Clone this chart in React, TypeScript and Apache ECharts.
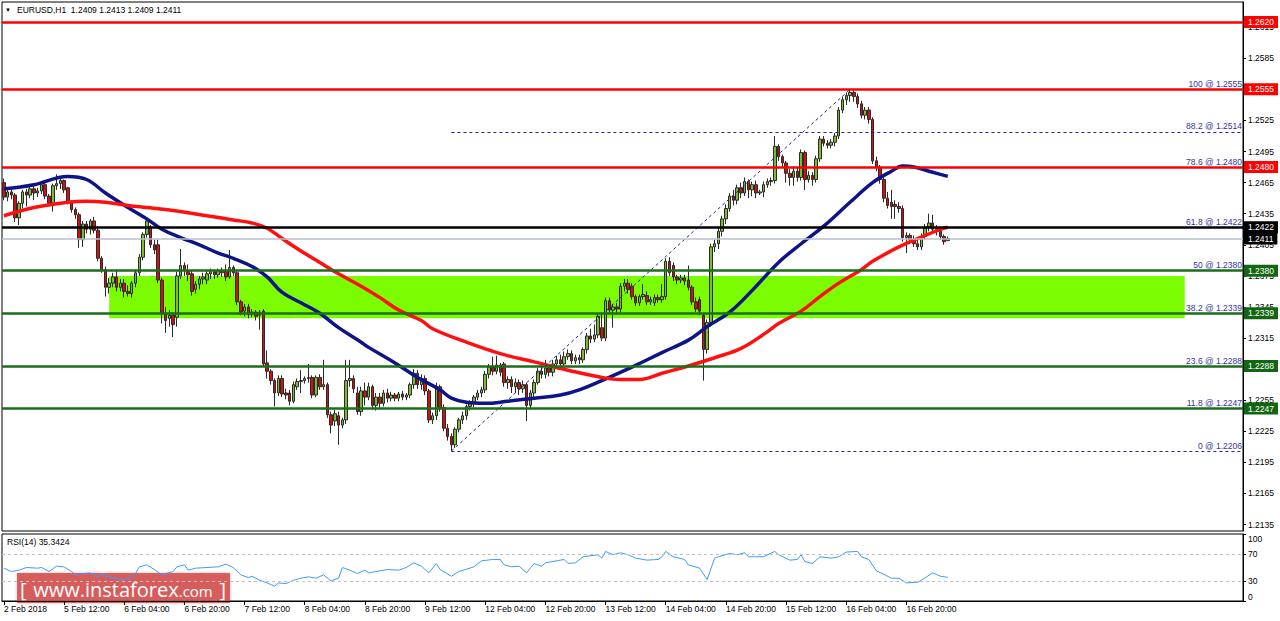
import React, { useEffect, useRef } from 'react';
import * as echarts from 'echarts';

// ---------- data ----------
const tickLabels = ['2 Feb 2018', '5 Feb 12:00', '6 Feb 04:00', '6 Feb 20:00', '7 Feb 12:00', '8 Feb 04:00', '8 Feb 20:00', '9 Feb 12:00', '12 Feb 04:00', '12 Feb 20:00', '13 Feb 12:00', '14 Feb 04:00', '14 Feb 20:00', '15 Feb 12:00', '16 Feb 04:00', '16 Feb 20:00'];
const priceTicks = [1.2135, 1.2165, 1.2195, 1.2225, 1.2255, 1.2285, 1.2315, 1.2345, 1.2375, 1.2405, 1.2435, 1.2465, 1.2495, 1.2525, 1.2555, 1.2585, 1.2615];
const rsiTicks = [0, 30, 70, 100];
const rsiLevels = [70, 30];

// [open, close, low, high] hourly candles
const candles: number[][] = [
  [1.2465,1.2451,1.2448,1.2469],[1.2451,1.2456,1.2447,1.2460],[1.2456,1.2453,1.2449,1.2461],[1.2453,1.2431,1.2427,1.2455],
  [1.2431,1.2445,1.2424,1.2447],[1.2445,1.2456,1.2440,1.2458],[1.2456,1.2453,1.2442,1.2459],[1.2453,1.2459,1.2450,1.2462],
  [1.2459,1.2455,1.2448,1.2462],[1.2455,1.2457,1.2451,1.2460],[1.2457,1.2463,1.2454,1.2465],[1.2463,1.2452,1.2449,1.2465],
  [1.2452,1.2445,1.2442,1.2454],[1.2445,1.2462,1.2437,1.2464],[1.2462,1.2464,1.2458,1.2473],[1.2464,1.2467,1.2459,1.2469],
  [1.2467,1.2458,1.2455,1.2468],[1.2460,1.2446,1.2444,1.2461],[1.2446,1.2439,1.2436,1.2448],[1.2439,1.2434,1.2430,1.2441],
  [1.2434,1.2410,1.2402,1.2436],[1.2410,1.2425,1.2403,1.2428],[1.2425,1.2420,1.2416,1.2428],[1.2420,1.2428,1.2415,1.2430],
  [1.2428,1.2419,1.2416,1.2432],[1.2419,1.2392,1.2389,1.2423],[1.2392,1.2381,1.2378,1.2394],[1.2381,1.2364,1.2355,1.2384],
  [1.2364,1.2368,1.2358,1.2373],[1.2368,1.2374,1.2364,1.2378],[1.2374,1.2364,1.2360,1.2381],[1.2364,1.2368,1.2360,1.2372],
  [1.2368,1.2360,1.2354,1.2372],[1.2360,1.2358,1.2355,1.2366],[1.2358,1.2368,1.2354,1.2370],[1.2368,1.2378,1.2364,1.2381],
  [1.2378,1.2393,1.2375,1.2396],[1.2393,1.2415,1.2390,1.2417],[1.2415,1.2428,1.2412,1.2431],[1.2421,1.2405,1.2402,1.2424],
  [1.2405,1.2400,1.2396,1.2410],[1.2405,1.2371,1.2368,1.2410],[1.2371,1.2339,1.2329,1.2373],[1.2339,1.2332,1.2320,1.2345],
  [1.2334,1.2337,1.2326,1.2342],[1.2337,1.2328,1.2316,1.2340],[1.2335,1.2375,1.2326,1.2379],[1.2375,1.2385,1.2372,1.2401],
  [1.2385,1.2380,1.2375,1.2388],[1.2380,1.2376,1.2370,1.2386],[1.2377,1.2360,1.2356,1.2380],[1.2362,1.2367,1.2358,1.2370],
  [1.2367,1.2372,1.2362,1.2375],[1.2372,1.2374,1.2367,1.2378],[1.2371,1.2377,1.2367,1.2380],[1.2377,1.2379,1.2372,1.2382],
  [1.2379,1.2376,1.2372,1.2381],[1.2376,1.2380,1.2373,1.2382],[1.2380,1.2378,1.2374,1.2383],[1.2380,1.2374,1.2370,1.2386],
  [1.2374,1.2383,1.2372,1.2400],[1.2383,1.2378,1.2375,1.2385],[1.2378,1.2350,1.2347,1.2380],[1.2350,1.2340,1.2337,1.2352],
  [1.2341,1.2345,1.2336,1.2348],[1.2345,1.2338,1.2334,1.2348],[1.2338,1.2340,1.2335,1.2343],[1.2340,1.2336,1.2332,1.2342],
  [1.2337,1.2340,1.2323,1.2342],[1.2341,1.2290,1.2288,1.2343],[1.2291,1.2283,1.2276,1.2303],[1.2283,1.2274,1.2270,1.2285],
  [1.2274,1.2262,1.2249,1.2276],[1.2262,1.2276,1.2259,1.2279],[1.2276,1.2261,1.2258,1.2279],[1.2262,1.2260,1.2256,1.2266],
  [1.2262,1.2254,1.2250,1.2265],[1.2254,1.2270,1.2252,1.2273],[1.2268,1.2273,1.2265,1.2276],[1.2273,1.2274,1.2262,1.2284],
  [1.2274,1.2276,1.2271,1.2278],[1.2276,1.2277,1.2272,1.2290],[1.2277,1.2260,1.2257,1.2279],[1.2260,1.2277,1.2258,1.2279],
  [1.2277,1.2268,1.2265,1.2280],[1.2268,1.2270,1.2265,1.2294],[1.2270,1.2241,1.2238,1.2272],[1.2241,1.2231,1.2223,1.2244],
  [1.2235,1.2242,1.2230,1.2246],[1.2240,1.2231,1.2212,1.2244],[1.2231,1.2236,1.2228,1.2238],[1.2236,1.2274,1.2232,1.2294],
  [1.2274,1.2276,1.2268,1.2294],[1.2276,1.2266,1.2262,1.2279],[1.2262,1.2244,1.2241,1.2268],[1.2244,1.2264,1.2240,1.2268],
  [1.2264,1.2258,1.2250,1.2272],[1.2258,1.2268,1.2255,1.2272],[1.2268,1.2250,1.2246,1.2270],[1.2250,1.2258,1.2245,1.2262],
  [1.2258,1.2252,1.2248,1.2262],[1.2252,1.2262,1.2249,1.2265],[1.2262,1.2257,1.2253,1.2266],[1.2257,1.2260,1.2254,1.2263],
  [1.2260,1.2257,1.2254,1.2262],[1.2257,1.2261,1.2254,1.2263],[1.2261,1.2258,1.2255,1.2264],[1.2258,1.2260,1.2255,1.2262],
  [1.2260,1.2270,1.2257,1.2272],[1.2270,1.2281,1.2266,1.2285],[1.2281,1.2270,1.2266,1.2284],[1.2270,1.2276,1.2265,1.2280],
  [1.2276,1.2264,1.2260,1.2279],[1.2264,1.2236,1.2233,1.2266],[1.2236,1.2240,1.2232,1.2243],[1.2240,1.2268,1.2236,1.2272],
  [1.2268,1.2248,1.2244,1.2270],[1.2248,1.2228,1.2225,1.2251],[1.2228,1.2220,1.2216,1.2232],[1.2220,1.2212,1.2206,1.2223],
  [1.2212,1.2227,1.2209,1.2229],[1.2227,1.2236,1.2224,1.2238],[1.2236,1.2240,1.2232,1.2244],[1.2240,1.2249,1.2236,1.2251],
  [1.2249,1.2252,1.2245,1.2255],[1.2252,1.2258,1.2248,1.2260],[1.2258,1.2262,1.2255,1.2265],[1.2262,1.2265,1.2258,1.2268],
  [1.2265,1.2280,1.2262,1.2283],[1.2280,1.2287,1.2276,1.2290],[1.2287,1.2283,1.2279,1.2297],[1.2283,1.2289,1.2280,1.2298],
  [1.2289,1.2282,1.2278,1.2291],[1.2290,1.2272,1.2268,1.2292],[1.2272,1.2275,1.2266,1.2278],[1.2275,1.2268,1.2262,1.2278],
  [1.2268,1.2272,1.2262,1.2276],[1.2272,1.2266,1.2260,1.2275],[1.2266,1.2270,1.2262,1.2274],[1.2270,1.2250,1.2235,1.2272],
  [1.2250,1.2262,1.2246,1.2265],[1.2262,1.2272,1.2258,1.2275],[1.2272,1.2283,1.2270,1.2286],[1.2283,1.2280,1.2276,1.2290],
  [1.2280,1.2286,1.2276,1.2294],[1.2286,1.2282,1.2278,1.2290],[1.2282,1.2290,1.2278,1.2294],[1.2290,1.2294,1.2287,1.2298],
  [1.2294,1.2290,1.2285,1.2299],[1.2290,1.2297,1.2287,1.2302],[1.2297,1.2300,1.2294,1.2304],[1.2300,1.2293,1.2290,1.2303],
  [1.2293,1.2296,1.2290,1.2299],[1.2296,1.2294,1.2290,1.2299],[1.2294,1.2304,1.2291,1.2306],[1.2304,1.2317,1.2300,1.2320],
  [1.2317,1.2314,1.2310,1.2324],[1.2314,1.2318,1.2311,1.2328],[1.2318,1.2336,1.2315,1.2339],[1.2325,1.2315,1.2312,1.2338],
  [1.2315,1.2351,1.2312,1.2354],[1.2351,1.2342,1.2339,1.2354],[1.2342,1.2345,1.2325,1.2348],[1.2345,1.2343,1.2338,1.2349],
  [1.2343,1.2365,1.2340,1.2368],[1.2365,1.2368,1.2360,1.2372],[1.2368,1.2362,1.2358,1.2372],[1.2365,1.2355,1.2352,1.2368],
  [1.2355,1.2349,1.2346,1.2357],[1.2349,1.2355,1.2346,1.2357],[1.2355,1.2357,1.2352,1.2367],[1.2356,1.2350,1.2347,1.2360],
  [1.2350,1.2352,1.2347,1.2355],[1.2349,1.2354,1.2346,1.2357],[1.2354,1.2352,1.2349,1.2357],[1.2352,1.2355,1.2349,1.2367],
  [1.2355,1.2389,1.2352,1.2392],[1.2389,1.2378,1.2375,1.2393],[1.2385,1.2374,1.2370,1.2388],[1.2374,1.2371,1.2367,1.2376],
  [1.2371,1.2373,1.2368,1.2376],[1.2373,1.2370,1.2366,1.2376],[1.2371,1.2364,1.2361,1.2385],[1.2364,1.2350,1.2347,1.2366],
  [1.2350,1.2343,1.2340,1.2354],[1.2352,1.2341,1.2337,1.2355],[1.2337,1.2304,1.2274,1.2339],[1.2304,1.2330,1.2300,1.2333],
  [1.2330,1.2403,1.2326,1.2406],[1.2403,1.2406,1.2398,1.2410],[1.2406,1.2418,1.2401,1.2421],[1.2418,1.2430,1.2413,1.2433],
  [1.2430,1.2440,1.2425,1.2444],[1.2440,1.2452,1.2437,1.2455],[1.2452,1.2448,1.2443,1.2458],[1.2448,1.2460,1.2444,1.2463],
  [1.2460,1.2455,1.2450,1.2465],[1.2455,1.2466,1.2452,1.2470],[1.2466,1.2458,1.2450,1.2468],[1.2458,1.2463,1.2452,1.2466],
  [1.2463,1.2455,1.2450,1.2467],[1.2455,1.2456,1.2453,1.2458],[1.2456,1.2463,1.2451,1.2466],[1.2463,1.2466,1.2460,1.2469],
  [1.2466,1.2467,1.2462,1.2470],[1.2467,1.2500,1.2464,1.2510],[1.2500,1.2490,1.2486,1.2502],[1.2490,1.2484,1.2480,1.2492],
  [1.2484,1.2474,1.2465,1.2486],[1.2474,1.2470,1.2462,1.2478],[1.2470,1.2476,1.2462,1.2479],[1.2476,1.2470,1.2466,1.2480],
  [1.2470,1.2494,1.2467,1.2497],[1.2494,1.2468,1.2458,1.2496],[1.2468,1.2472,1.2465,1.2476],[1.2472,1.2468,1.2462,1.2475],
  [1.2468,1.2488,1.2465,1.2491],[1.2488,1.2507,1.2485,1.2510],[1.2507,1.2503,1.2500,1.2510],[1.2503,1.2501,1.2498,1.2506],
  [1.2501,1.2504,1.2498,1.2507],[1.2504,1.2510,1.2500,1.2513],[1.2510,1.2535,1.2507,1.2538],[1.2535,1.2545,1.2532,1.2548],
  [1.2545,1.2549,1.2540,1.2552],[1.2549,1.2552,1.2543,1.2555],[1.2552,1.2548,1.2543,1.2554],[1.2548,1.2541,1.2537,1.2551],
  [1.2541,1.2530,1.2527,1.2544],[1.2530,1.2535,1.2526,1.2538],[1.2535,1.2526,1.2522,1.2538],[1.2526,1.2486,1.2483,1.2528],
  [1.2486,1.2480,1.2476,1.2490],[1.2480,1.2468,1.2464,1.2482],[1.2468,1.2450,1.2446,1.2470],[1.2450,1.2443,1.2440,1.2456],
  [1.2446,1.2442,1.2430,1.2458],[1.2444,1.2442,1.2430,1.2448],[1.2442,1.2440,1.2436,1.2446],[1.2440,1.2412,1.2408,1.2443],
  [1.2412,1.2414,1.2397,1.2417],[1.2414,1.2410,1.2406,1.2416],[1.2410,1.2406,1.2403,1.2414],[1.2406,1.2403,1.2400,1.2412],
  [1.2403,1.2413,1.2400,1.2416],[1.2413,1.2422,1.2410,1.2425],[1.2422,1.2426,1.2418,1.2435],[1.2426,1.2420,1.2417,1.2434],
  [1.2420,1.2418,1.2414,1.2424],[1.2418,1.2413,1.2410,1.2420],[1.2413,1.2408,1.2405,1.2415],[1.2409,1.2411,1.2409,1.2413],
];

// moving averages: [bar index, price]
const maBlue: number[][] = [
  [0,1.2459],[8,1.2463],[17,1.2471],[22,1.2468],[27,1.2455],[33,1.2441],[38,1.2430],[42,1.2420],[47,1.2412],[52,1.2405],
  [57,1.2397],[61,1.2392],[66,1.2384],[70,1.2374],[74,1.2359],[79,1.2349],[84,1.2339],[89,1.2325],[95,1.2311],[97,1.2306],
  [104,1.2291],[110,1.2277],[116,1.2265],[119,1.2257],[123,1.2253],[128,1.2252],[134,1.2254],[141,1.2257],[148,1.2260],[153,1.2265],
  [159,1.2274],[167,1.2287],[175,1.2301],[182,1.2313],[187,1.2326],[193,1.2340],[199,1.2361],[206,1.2388],[212,1.2406],[218,1.2423],
  [225,1.2446],[231,1.2465],[236,1.2476],[239,1.2481],[242,1.2480],[247,1.2475],[251,1.2471],
];
const maRed: number[][] = [
  [0,1.2433],[8,1.2441],[17,1.2446],[22,1.2447],[27,1.2446],[33,1.2443],[38,1.2441],[43,1.2439],[49,1.2436],[54,1.2433],
  [61,1.2429],[66,1.2426],[70,1.2421],[74,1.2411],[79,1.2399],[84,1.2388],[89,1.2377],[95,1.2365],[100,1.2354],[105,1.2342],
  [111,1.2332],[114,1.2324],[123,1.2311],[132,1.2300],[141,1.2292],[150,1.2284],[159,1.2277],[164,1.2275],[169,1.2275],[175,1.2281],
  [182,1.2288],[189,1.2296],[196,1.2305],[203,1.2321],[206,1.2329],[212,1.2341],[217,1.2355],[222,1.2368],[228,1.2381],[231,1.2389],
  [238,1.2403],[245,1.2414],[250,1.2421],[251,1.2422],
];
// RSI(14): [bar index, value]
const rsi: number[][] = [
  [0,49],[2,44],[4,46],[6,50],[9,49],[10,50],[12,44],[14,52],[16,51],[18,44],[19,39],[21,41],[23,42],[25,36],[26,39],[28,36],
  [30,34],[32,31],[34,36],[35,41],[36,51],[38,54],[40,47],[42,39],[43,41],[45,44],[46,51],[48,54],[49,46],[51,49],[54,50],[57,51],
  [59,55],[61,50],[63,39],[65,35],[66,37],[68,31],[70,27],[72,22],[73,27],[75,26],[77,31],[79,34],[81,36],[83,34],[85,39],[87,30],
  [89,34],[90,50],[92,46],[94,41],[96,46],[97,42],[100,45],[102,47],[105,46],[107,50],[109,57],[111,52],[113,42],[115,56],[116,47],
  [119,37],[121,44],[125,51],[127,60],[130,62],[132,62],[133,54],[135,51],[137,52],[139,42],[141,56],[143,52],[144,57],[147,60],
  [149,62],[150,56],[152,57],[154,66],[158,69],[159,64],[160,74],[162,69],[164,72],[166,69],[168,64],[171,61],[174,62],[175,66],
  [176,74],[178,66],[181,62],[182,54],[185,49],[187,32],[189,64],[190,66],[193,71],[195,69],[197,72],[198,66],[202,66],[205,74],
  [206,69],[209,61],[211,62],[212,69],[213,59],[215,56],[217,66],[220,64],[222,66],[224,73],[227,74],[228,66],[230,62],[232,45],
  [234,40],[236,34],[238,34],[240,27],[243,28],[244,31],[247,42],[249,37],[251,35.3424],
];

const redLevels = [1.2620, 1.2555, 1.2480];
const blackLevels = [1.2422];
const bidLevels = [1.2411];
const greenLevels = [1.2380, 1.2339, 1.2288, 1.2247];
const fibPercents = ['100', '88.2', '78.6', '61.8', '50', '38.2', '23.6', '11.8', '0'];
const fibPrices = [1.2555, 1.2514, 1.2480, 1.2422, 1.2380, 1.2339, 1.2288, 1.2247, 1.2206];
const fibDashedPrices = [1.2514, 1.2206];
const fibLow = [119, 1.2206];
const fibHigh = [225, 1.2555];
const zoneBars = [28, 314];
const zonePrices = [1.2375, 1.2334];

const BAR_COUNT = 330;
const FONT = '"Liberation Sans", Arial, sans-serif';

function buildOption() {
  const cats = Array.from({ length: BAR_COUNT }, (_, i) => String(i));
  const showTick = (i: number) => i % 16 === 0 && i / 16 < tickLabels.length;
  const tag = (v: number, bg: string, lineColor: string, width: number) => ({
    yAxis: v,
    lineStyle: { color: lineColor, width, type: 'solid' },
    label: {
      show: true, position: 'end', formatter: v.toFixed(4), backgroundColor: bg, color: '#fff',
      fontSize: 8.5, fontFamily: FONT, padding: [2, 4, 1, 4], distance: 1, lineHeight: 9,
    },
  });
  const levelLines: any[] = [
    ...redLevels.map((v) => tag(v, '#ff0000', '#ff0000', 2.5)),
    ...greenLevels.map((v) => tag(v, '#126612', '#1b6e1b', 2.5)),
    ...bidLevels.map((v) => tag(v, '#000000', '#b9c1cc', 1.5)),
    ...blackLevels.map((v) => tag(v, '#000000', '#000000', 2.5)),
  ];
  const fibLabels: any[] = fibPrices.map((v, k) => ({
    yAxis: v,
    lineStyle: { color: 'rgba(0,0,0,0)', width: 1 },
    label: {
      show: true, position: 'insideEndTop', formatter: `${fibPercents[k]} @ ${v.toFixed(4)}`,
      color: '#34349c', fontSize: 8.5, fontFamily: FONT, distance: 1,
    },
  }));
  const dashed = { color: '#22229a', width: 1, type: [3, 3] };
  const fibDashed: any[] = fibDashedPrices.map((v) => [
    { coord: [fibLow[0], v], lineStyle: dashed, label: { show: false } },
    { coord: [BAR_COUNT - 1, v] },
  ]);
  fibDashed.push([
    { coord: [fibLow[0], fibLow[1]], lineStyle: dashed, label: { show: false } },
    { coord: [fibHigh[0], fibHigh[1]] },
  ]);

  return {
    animation: false,
    backgroundColor: '#ffffff',
    textStyle: { fontFamily: FONT },
    grid: [
      { left: 2, top: 2, width: 1241, height: 529, show: true, borderColor: '#000', borderWidth: 1 },
      { left: 2, top: 534, width: 1241, height: 67, show: true, borderColor: '#000', borderWidth: 1 },
    ],
    xAxis: [
      {
        type: 'category', gridIndex: 0, data: cats, boundaryGap: true,
        axisLine: { show: false }, axisTick: { show: false }, axisLabel: { show: false }, splitLine: { show: false },
      },
      {
        type: 'category', gridIndex: 1, data: cats, boundaryGap: true,
        axisLine: { show: true, lineStyle: { color: '#000' } },
        axisTick: { show: true, interval: (i: number) => showTick(i), alignWithLabel: true, length: 4, lineStyle: { color: '#000' } },
        axisLabel: {
          interval: (i: number) => showTick(i),
          formatter: (_v: string, i: number) => (showTick(i) ? tickLabels[i / 16] : ''),
          align: 'left', fontSize: 8.5, color: '#000', margin: 3, fontFamily: FONT,
        },
        splitLine: { show: false },
      },
    ],
    yAxis: [
      {
        type: 'value', gridIndex: 0, position: 'right', min: 1.21288, max: 1.26393, scale: true,
        axisLine: { show: true, lineStyle: { color: '#000' } },
        axisTick: { show: true, length: 3, customValues: priceTicks, lineStyle: { color: '#000' } },
        axisLabel: { customValues: priceTicks, formatter: (v: number) => v.toFixed(4), fontSize: 8.5, color: '#000', margin: 5, fontFamily: FONT },
        splitLine: { show: false },
      },
      {
        type: 'value', gridIndex: 1, position: 'right', min: 0, max: 100,
        axisLine: { show: true, lineStyle: { color: '#000' } },
        axisTick: { show: true, length: 3, customValues: rsiTicks, lineStyle: { color: '#000' } },
        axisLabel: {
          customValues: rsiTicks, fontSize: 8.5, color: '#000', margin: 5, fontFamily: FONT,
          verticalAlignMinLabel: 'bottom', verticalAlignMaxLabel: 'top',
        },
        splitLine: { show: false },
      },
    ],
    series: [
      {
        name: 'zone', type: 'line', xAxisIndex: 0, yAxisIndex: 0, data: [], z: 1, silent: true,
        markArea: {
          silent: true,
          itemStyle: { color: '#7cfc00' },
          data: [[{ coord: [zoneBars[0], zonePrices[0]] }, { coord: [zoneBars[1], zonePrices[1]] }]],
        },
      },
      {
        name: 'EURUSD', type: 'candlestick', xAxisIndex: 0, yAxisIndex: 0, data: candles, barWidth: 3, z: 2,
        itemStyle: { color: '#7bbd2c', color0: '#d30f0f', borderColor: '#2a2a2a', borderColor0: '#2a2a2a', borderWidth: 1 },
      },
      {
        name: 'MA blue', type: 'line', xAxisIndex: 0, yAxisIndex: 0, data: maBlue, smooth: 0.4, showSymbol: false, z: 3,
        lineStyle: { color: '#0d1488', width: 3.5 },
      },
      {
        name: 'MA red', type: 'line', xAxisIndex: 0, yAxisIndex: 0, data: maRed, smooth: 0.4, showSymbol: false, z: 3,
        lineStyle: { color: '#ff1010', width: 3.5 },
      },
      {
        name: 'levels', type: 'line', xAxisIndex: 0, yAxisIndex: 0, data: [], z: 4, clip: false, silent: true,
        markLine: { silent: true, precision: 5, symbol: ['none', 'none'], animation: false, data: [...fibDashed, ...levelLines, ...fibLabels] },
      },
      {
        name: 'RSI', type: 'line', xAxisIndex: 1, yAxisIndex: 1, data: rsi, showSymbol: false, z: 3,
        lineStyle: { color: '#3d9bff', width: 1 },
        markLine: {
          silent: true, precision: 2, symbol: ['none', 'none'], label: { show: false },
          lineStyle: { color: '#c4c4c4', width: 1, type: [3, 3] },
          data: rsiLevels.map((v) => ({ yAxis: v })),
        },
      },
    ],
    graphic: [
      { type: 'text', x: 5, y: 10, z: 10, style: { text: '▼', fill: '#000', font: `6px ${FONT}`, textVerticalAlign: 'middle' } },
      { type: 'text', x: 17, y: 10, z: 10, style: { text: 'EURUSD,H1  1.2409 1.2413 1.2409 1.2411', fill: '#000', font: `8.5px ${FONT}`, textVerticalAlign: 'middle' } },
      { type: 'text', x: 7, y: 542, z: 10, style: { text: 'RSI(14) 35.3424', fill: '#000', font: `8.5px ${FONT}`, textVerticalAlign: 'middle' } },
      {
        type: 'group', z: 20,
        children: [
          { type: 'rect', shape: { x: 17, y: 573, width: 213, height: 30 }, style: { fill: 'rgba(214, 70, 70, 0.82)', shadowBlur: 3, shadowColor: 'rgba(120,0,0,0.35)' } },
          {
            type: 'text', x: 123, y: 589,
            style: {
              text: '{b|[}  {w|www.instaforex}{c|.com}  {b|]}',
              textAlign: 'center', textVerticalAlign: 'middle', fill: '#fff',
              rich: {
                b: { fontSize: 20, fill: '#fff', fontFamily: '"Open Sans", sans-serif' },
                w: { fontSize: 20, fill: '#fff', fontFamily: '"Open Sans", sans-serif' },
                c: { fontSize: 15, fill: '#fff', fontFamily: '"Open Sans", sans-serif', padding: [4, 0, 0, 0] },
              },
            },
          },
        ],
      },
    ],
  };
}

export default function App() {
  const ref = useRef<HTMLDivElement>(null);
  useEffect(() => {
    document.body.style.margin = '0';
    const chart = echarts.init(ref.current as HTMLDivElement, null, { renderer: 'svg' });
    chart.setOption(buildOption() as any);
    return () => chart.dispose();
  }, []);
  return <div ref={ref} style={{ width: 1280, height: 621 }} />;
}
